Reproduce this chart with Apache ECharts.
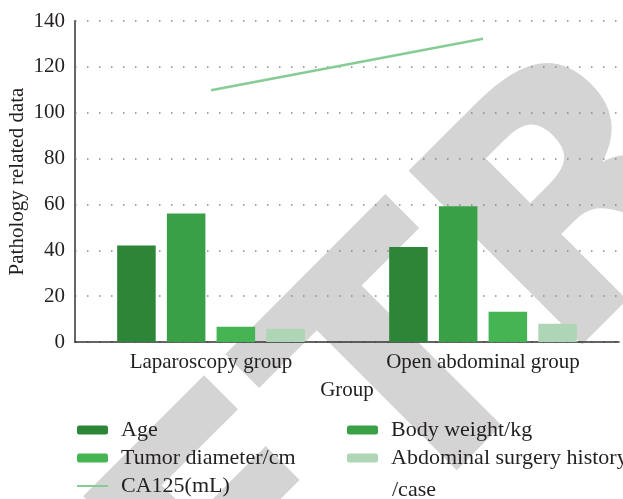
<!DOCTYPE html>
<html>
<head>
<meta charset="utf-8">
<script src="https://cdn.jsdelivr.net/npm/echarts@6/dist/echarts.min.js"></script>
<style>
  html, body { margin: 0; padding: 0; background: #fff; }
  #chart { width: 623px; height: 499px; }
</style>
</head>
<body>
<div id="chart"></div>
<script>
// data
const groups = ["Laparoscopy group", "Open abdominal group"];
const age = [42.1, 41.4];
const bodyWeight = [56.0, 59.2];
const tumorDiameter = [6.7, 13.2];
const surgeryHistory = [5.8, 8.0];
const ca125 = [109.8, 132.3];
const yTicks = [0, 20, 40, 60, 80, 100, 120, 140];

const serif = "Liberation Serif";
const ink = "#231f20";
const lineColor = "#86cc95";

let myChart = echarts.init(document.getElementById("chart"));

let legendText = { fontFamily: serif, fontSize: 22, color: ink, lineHeight: 22, padding: [0, 0, 0, 8] };

let option = {
  animation: false,
  textStyle: { fontFamily: serif, color: ink },
  grid: { left: 75, right: 4, top: 21, bottom: 157, outerBoundsMode: "none" },
  graphic: [
    {
      // grey watermark behind the plot
      type: "text",
      z: -10,
      x: 777,
      y: 26,
      rotation: Math.PI / 4,
      style: {
        text: "RETRACTED",
        fill: "#d4d4d4",
        font: "bold 337px 'DejaVu Sans'",
        align: "center",
        verticalAlign: "middle"
      }
    },
    {
      type: "text",
      left: 392,
      top: 479,
      style: { text: "/case", fill: ink, font: "22px 'Liberation Serif'" }
    }
  ],
  legend: [
    {
      orient: "vertical",
      left: 77,
      top: 419,
      padding: 0,
      height: 90,
      itemWidth: 31,
      itemHeight: 9,
      itemGap: 6,
      data: [
        "Age",
        "Tumor diameter/cm",
        { name: "CA125(mL)", icon: "path://M0,0L31,0L31,2L0,2Z" }
      ],
      textStyle: legendText
    },
    {
      orient: "vertical",
      left: 347,
      top: 419,
      padding: 0,
      height: 90,
      itemWidth: 31,
      itemHeight: 9,
      itemGap: 6,
      data: ["Body weight/kg", "Abdominal surgery history /case"],
      formatter: n => n.replace(" /case", ""),
      textStyle: legendText
    }
  ],
  xAxis: {
    type: "category",
    data: groups,
    name: "Group",
    nameLocation: "middle",
    nameGap: 38,
    nameTextStyle: { fontFamily: serif, fontSize: 21, color: ink },
    axisLine: { lineStyle: { color: "#333", width: 1.5 } },
    axisTick: { show: false },
    axisLabel: { fontFamily: serif, fontSize: 21, color: ink, margin: 10 }
  },
  yAxis: {
    type: "value",
    min: yTicks[0],
    max: yTicks[yTicks.length - 1],
    interval: 20,
    name: "Pathology related data",
    nameLocation: "middle",
    nameGap: 47,
    nameMoveOverlap: false,
    nameTextStyle: { fontFamily: serif, fontSize: 21, color: ink },
    axisLine: { show: true, lineStyle: { color: "#666", width: 2 } },
    axisTick: { show: false },
    axisLabel: { fontFamily: serif, fontSize: 21, color: ink, margin: 10 },
    splitLine: { lineStyle: { color: "#888", width: 1.5, type: [1.5, 10.5] } }
  },
  series: [
    { name: "Age", type: "bar", data: age, barCategoryGap: "31%", barGap: "29%", itemStyle: { color: "#2d8638" } },
    { name: "Body weight/kg", type: "bar", data: bodyWeight, itemStyle: { color: "#3aa046" } },
    { name: "Tumor diameter/cm", type: "bar", data: tumorDiameter, itemStyle: { color: "#45b554" } },
    { name: "Abdominal surgery history /case", type: "bar", data: surgeryHistory, itemStyle: { color: "#aed6b6" } },
    {
      name: "CA125(mL)",
      type: "line",
      data: ca125,
      symbol: "none",
      lineStyle: { color: lineColor, width: 2.5 },
      itemStyle: { color: lineColor }
    }
  ]
};

myChart.setOption(option);
</script>
</body>
</html>
